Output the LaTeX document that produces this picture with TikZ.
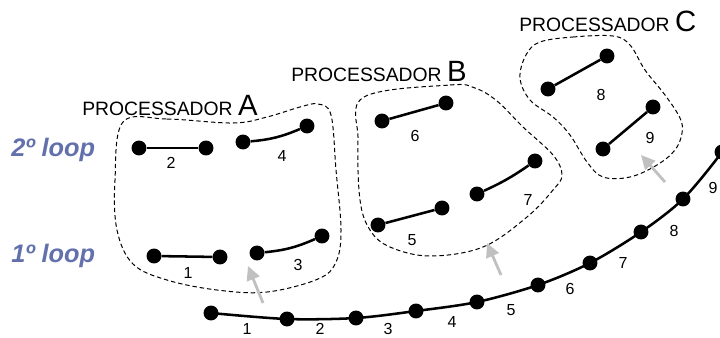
\documentclass[tikz,border=0pt]{standalone}
\usepackage{fontspec}
\setmainfont{Liberation Sans}
\usetikzlibrary{arrows.meta}
\definecolor{loopblue}{RGB}{98,112,172}
\definecolor{arrowgray}{RGB}{192,192,192}

\begin{document}
\begin{tikzpicture}[x=0.75pt,y=-0.75pt,
  dot/.style={circle,fill=black,inner sep=0pt,minimum size=11.2pt},
  link/.style={line width=1.9pt},
  region/.style={dash pattern=on 3.3pt off 2.2pt, line width=0.75pt},
  pointer/.style={draw=arrowgray, line width=2.1pt, -{Triangle[length=10.5pt,width=10pt]}},
  num/.style={font=\fontsize{12}{12}\selectfont, inner sep=0pt},
  loopname/.style={font=\fontsize{19}{19}\selectfont\bfseries\itshape, text=loopblue, anchor=base west, inner sep=0pt},
  proc/.style={font=\fontsize{14.5}{15}\selectfont, anchor=base west, inner sep=0pt}
]
\useasboundingbox (0,0) rectangle (720,337);

% loop captions
\node[loopname] (loop2) at (11,156) {2º loop};
\node[loopname] (loop1) at (11,262) {1º loop};

% processor captions
\node[proc] (procA) at (82,115) {PROCESSADOR {\fontsize{22}{22}\selectfont A}};
\node[proc] (procB) at (291,81) {PROCESSADOR {\fontsize{22}{22}\selectfont B}};
\node[proc] (procC) at (519,31) {PROCESSADOR {\fontsize{22}{22}\selectfont C}};

% processor regions
\draw[region] plot[smooth cycle, tension=0.6] coordinates {
  (123,122) (167,119) (233,123) (267,117) (300,107) (318,104) (331,115)
  (336,170) (341,230) (336,262) (318,279) (267,292) (217,290) (167,280)
  (133,264) (117,230) (115,180)};
\draw[region] plot[smooth cycle, tension=0.6] coordinates {
  (364,97) (450,85) (475,88) (497,101) (523,127) (553,155) (562,175)
  (553,190) (527,217) (483,247) (430,256) (390,247) (370,230) (360,200) (358,140)};
\draw[region] plot[smooth cycle, tension=0.6] coordinates {
  (540,42) (573,37) (613,36) (630,45) (645,70) (665,95) (680,118) (682,133)
  (675,150) (657,165) (630,177) (603,177) (587,162) (570,135) (553,117)
  (530,100) (520,78) (526,55)};

% processor A segments
\node[dot] (a1l) at (154,256) {};
\node[dot] (a1r) at (220,257) {};
\draw[link] (a1l) -- (a1r);
\node[num] (n1) at (188,273) {1};
\node[dot] (a2l) at (139,148) {};
\node[dot] (a2r) at (206,148) {};
\draw[link] (a2l) -- (a2r);
\node[num] (n2) at (171,163) {2};
\node[dot] (a3l) at (257,253) {};
\node[dot] (a3r) at (322,236) {};
\draw[link] (a3l) to[bend right=9] (a3r);
\node[num] (n3) at (298,265) {3};
\node[dot] (a4l) at (243,142) {};
\node[dot] (a4r) at (307,126) {};
\draw[link] (a4l) to[bend right=9] (a4r);
\node[num] (n4) at (282,156) {4};

% processor B segments
\node[dot] (b5l) at (378,225) {};
\node[dot] (b5r) at (442,208) {};
\draw[link] (b5l) -- (b5r);
\node[num] (n5) at (412,240) {5};
\node[dot] (b6l) at (382,121) {};
\node[dot] (b6r) at (446,103) {};
\draw[link] (b6l) -- (b6r);
\node[num] (n6) at (415,136) {6};
\node[dot] (b7l) at (477,194) {};
\node[dot] (b7r) at (535,161) {};
\draw[link] (b7l) to[bend right=5] (b7r);
\node[num] (n7) at (528,200) {7};

% processor C segments
\node[dot] (c8l) at (548,89) {};
\node[dot] (c8r) at (607,56) {};
\draw[link] (c8l) -- (c8r);
\node[num] (n8) at (601,95) {8};
\node[dot] (c9l) at (603,149) {};
\node[dot] (c9r) at (653,107) {};
\draw[link] (c9l) -- (c9r);
\node[num] (n9) at (650,138) {9};

% the full chain along the bottom
\coordinate (p1) at (211,313);
\coordinate (p2) at (287,319);
\coordinate (p3) at (356,318);
\coordinate (p4) at (416,311);
\coordinate (p5) at (477,302);
\coordinate (p6) at (538,285);
\coordinate (p7) at (590,263);
\coordinate (p8) at (641,232);
\coordinate (p9) at (683,199);
\coordinate (p10) at (722,152);
\coordinate (p11) at (740,122);
\draw[link] plot[smooth, tension=0.5] coordinates {(p1) (p2) (p3) (p4) (p5) (p6) (p7) (p8) (p9) (p10) (p11)};
\foreach \k in {1,...,10} { \node[dot] (q\k) at (p\k) {}; }
\node[num] (m1) at (247,329) {1};
\node[num] (m2) at (320,329) {2};
\node[num] (m3) at (388,329) {3};
\node[num] (m4) at (452,322) {4};
\node[num] (m5) at (511,310) {5};
\node[num] (m6) at (570,289) {6};
\node[num] (m7) at (623,263) {7};
\node[num] (m8) at (674,231) {8};
\node[num] (m9) at (713,188) {9};

% arrows from the chain into each region
\coordinate (ta) at (263,303); \coordinate (ha) at (248,266);
\coordinate (tb) at (501,275); \coordinate (hb) at (487,243);
\coordinate (tc) at (665,182); \coordinate (hc) at (641,155);
\draw[pointer] (ta) -- (ha);
\draw[pointer] (tb) -- (hb);
\draw[pointer] (tc) -- (hc);
\end{tikzpicture}
\end{document}
